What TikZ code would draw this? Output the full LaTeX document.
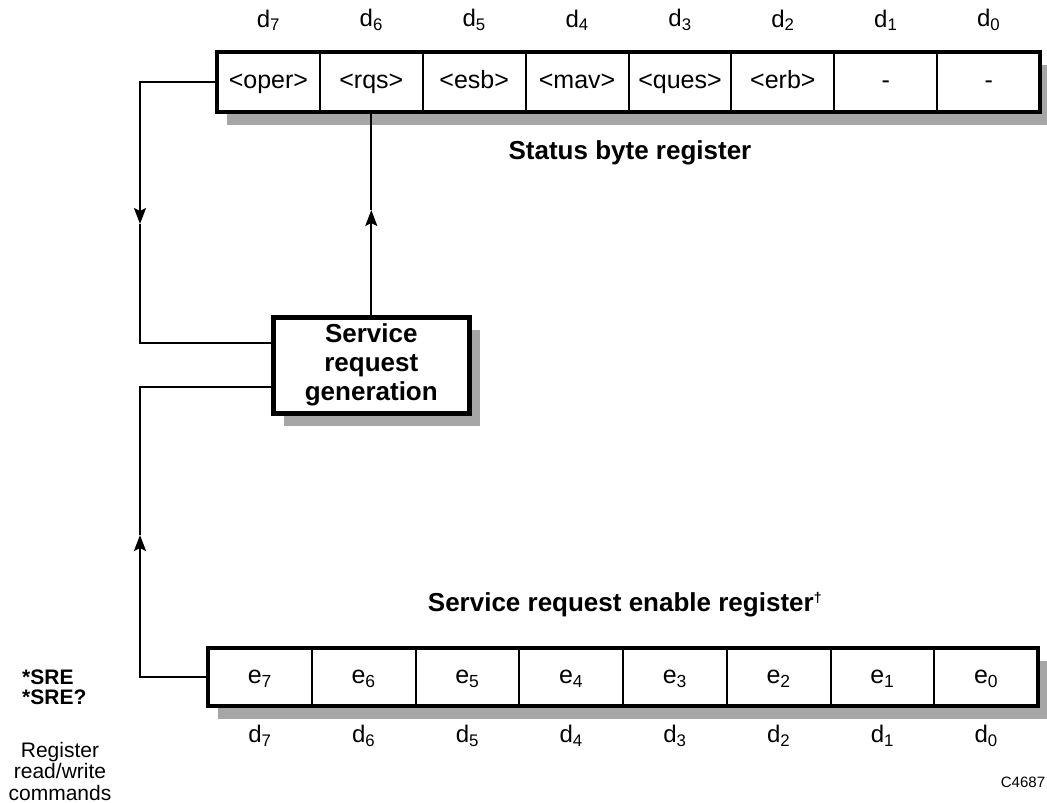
\documentclass[tikz,border=0pt]{standalone}
\usepackage{fontspec}
\setmainfont{Liberation Sans}
\usetikzlibrary{arrows.meta, positioning, fit, backgrounds, shadows}

\begin{document}
\begin{tikzpicture}[
    x=1pt, y=-1pt,
    cell/.style={draw, line width=2pt, minimum width=102.9pt, minimum height=60pt,
                 inner sep=0pt, outer sep=0pt, text height=18pt, text depth=5pt,
                 font=\fontsize{25}{29}\selectfont},
    ecell/.style={cell, minimum width=103.75pt, minimum height=58pt},
    regbox/.style={draw, line width=4.5pt, fill=white, inner sep=0pt,
                   drop shadow={shadow xshift=10pt, shadow yshift=-13pt, fill=black!35, opacity=1}},
    genbox/.style={draw, line width=5pt, fill=white, minimum width=196pt, minimum height=96pt,
                   inner sep=0pt, align=center, font=\fontsize{26}{29}\selectfont\bfseries,
                   drop shadow={shadow xshift=11pt, shadow yshift=-13pt, fill=black!35, opacity=1}},
    bit/.style={inner sep=0pt, font=\fontsize{24}{28}\selectfont},
    title/.style={inner sep=0pt, font=\fontsize{26}{30}\selectfont\bfseries},
    conn/.style={line width=2pt},
    arr/.style={conn, -{Stealth[length=16pt, width=12pt, inset=3pt]}}
]
\useasboundingbox (0,0) rectangle (1047,803);

% ---- Status byte register (top) ----
\node[cell]                  (oper) at (268.4,82) {<oper>};
\node[cell, right=0pt of oper] (rqs)  {<rqs>};
\node[cell, right=0pt of rqs]  (esb)  {<esb>};
\node[cell, right=0pt of esb]  (mav)  {<mav>};
\node[cell, right=0pt of mav]  (ques) {<ques>};
\node[cell, right=0pt of ques] (erb)  {<erb>};
\node[cell, right=0pt of erb]  (nil1) {-};
\node[cell, right=0pt of nil1] (nil0) {-};

\node[bit, above=21pt of oper] (dt7) {d\textsubscript{7}};
\node[bit, above=21pt of rqs]  (dt6) {d\textsubscript{6}};
\node[bit, above=21pt of esb]  (dt5) {d\textsubscript{5}};
\node[bit, above=21pt of mav]  (dt4) {d\textsubscript{4}};
\node[bit, above=21pt of ques] (dt3) {d\textsubscript{3}};
\node[bit, above=21pt of erb]  (dt2) {d\textsubscript{2}};
\node[bit, above=21pt of nil1] (dt1) {d\textsubscript{1}};
\node[bit, above=21pt of nil0] (dt0) {d\textsubscript{0}};

\node[title] (sbrlbl) at (630,153) {Status byte register};

% ---- Service request generation ----
\node[genbox] (srg) at (rqs |- 0,365) {Service\\request\\generation};

% ---- Service request enable register (bottom) ----
\node[ecell]                 (e7) at (259.9,677) {e\textsubscript{7}};
\node[ecell, right=0pt of e7] (e6) {e\textsubscript{6}};
\node[ecell, right=0pt of e6] (e5) {e\textsubscript{5}};
\node[ecell, right=0pt of e5] (e4) {e\textsubscript{4}};
\node[ecell, right=0pt of e4] (e3) {e\textsubscript{3}};
\node[ecell, right=0pt of e3] (e2) {e\textsubscript{2}};
\node[ecell, right=0pt of e2] (e1) {e\textsubscript{1}};
\node[ecell, right=0pt of e1] (e0) {e\textsubscript{0}};

\node[bit, below=19pt of e7] (db7) {d\textsubscript{7}};
\node[bit, below=19pt of e6] (db6) {d\textsubscript{6}};
\node[bit, below=19pt of e5] (db5) {d\textsubscript{5}};
\node[bit, below=19pt of e4] (db4) {d\textsubscript{4}};
\node[bit, below=19pt of e3] (db3) {d\textsubscript{3}};
\node[bit, below=19pt of e2] (db2) {d\textsubscript{2}};
\node[bit, below=19pt of e1] (db1) {d\textsubscript{1}};
\node[bit, below=19pt of e0] (db0) {d\textsubscript{0}};

\node[title] (srelbl) at (625,605)
    {Service request enable register\textsuperscript{\fontsize{14}{14}\selectfont\dag}};

% commands and figure number
\node[anchor=west, align=left, inner sep=0pt, font=\fontsize{21}{20}\selectfont\bfseries]
    (sre) at (22,687) {*SRE\\*SRE?};
\node[align=center, inner sep=0pt, font=\fontsize{21}{21.5}\selectfont]
    (rwcmd) at (60,771) {Register\\read/write\\commands};
\node[inner sep=0pt, font=\fontsize{15}{17}\selectfont] (fignum) at (1023,782) {C4687};

% ---- connectors ----
\coordinate (ldn) at (140,224);
\coordinate (lup) at (140,535);
\coordinate (rup) at ([yshift=-98pt]rqs.south);

\draw[arr]  (oper.west) -| (ldn);
\draw[conn] (ldn) |- ([yshift=22pt]srg.west);

\draw[arr]  (e7.west) -| (lup);
\draw[conn] (lup) |- ([yshift=-22pt]srg.west);

\draw[arr]  (srg.north) -- (rup);
\draw[conn] (rup) -- (rqs.south);

% ---- register frames ----
\begin{pgfonlayer}{background}
    \node[regbox, fit=(oper)(nil0)] (sbr) {};
    \node[regbox, fit=(e7)(e0)] (srer) {};
\end{pgfonlayer}

\end{tikzpicture}
\end{document}
